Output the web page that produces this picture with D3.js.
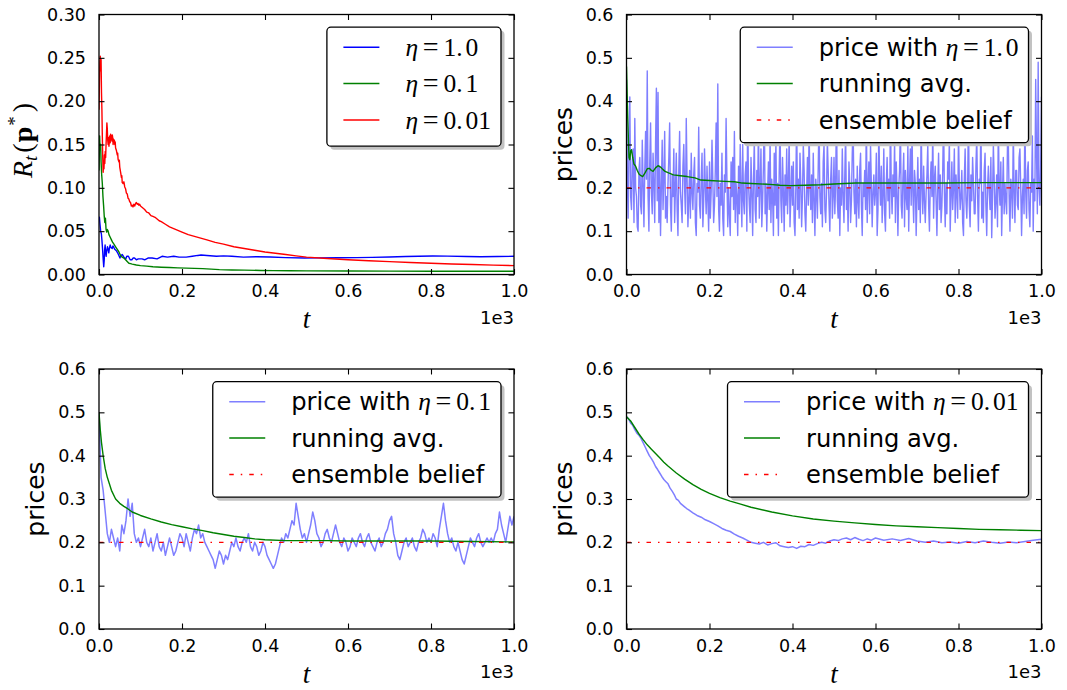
<!DOCTYPE html>
<html>
<head>
<meta charset="utf-8">
<script src="https://cdn.jsdelivr.net/npm/d3@7"></script>
<style>
  html, body { margin: 0; padding: 0; background: #fff; }
  svg { display: block; }
</style>
</head>
<body>
<svg id="fig" width="1067" height="690"></svg>
<script>
// ---------------- data ----------------
// time axis (steps); tick labels are shown in thousands with a "1e3" offset
const timeTicks = [0, 200, 400, 600, 800, 1000];
const regretTicks = [0, 0.05, 0.10, 0.15, 0.20, 0.25, 0.30];
const priceTicks = [0, 0.1, 0.2, 0.3, 0.4, 0.5, 0.6];

// R_t(p*) for three learning rates: [t, value]
const regretEta1 = [[0,0.062],[1,0.066],[2.4,0.058],[4,0.05],[5.7,0.047],[7,0.04],[8.5,0.03],[10,0.018],[11.4,0.009],[12.5,0.016],[13.5,0.028],[14.7,0.034],[16,0.026],[17.1,0.021],[18.5,0.027],[20.4,0.032],[22,0.029],[23.6,0.025],[25,0.03],[26.9,0.034],[29,0.031],[31.8,0.03],[33.5,0.033],[35,0.032],[38,0.029],[42.4,0.027],[46,0.024],[50.5,0.019],[53,0.022],[56.2,0.023],[60,0.02],[64.4,0.018],[67,0.021],[70.9,0.021],[75,0.017],[79.1,0.017],[82,0.019],[85.6,0.019],[90,0.017],[95,0.018],[103.5,0.018],[110,0.017],[118,0.019],[128,0.019],[140,0.018],[152,0.021],[165,0.02],[180,0.021],[193,0.02],[210,0.02],[225,0.021],[238,0.022],[246,0.0225],[260,0.022],[283,0.021],[300,0.0215],[320,0.021],[348,0.02],[380,0.0205],[413,0.0202],[450,0.0195],[495,0.019],[530,0.0192],[576,0.0193],[620,0.0195],[658,0.0198],[700,0.0202],[739,0.0208],[770,0.021],[804,0.0213],[840,0.0212],[886,0.0207],[920,0.0205],[960,0.0208],[1000,0.021]];
const regretEta01 = [[0,0.12],[1.5,0.16],[2.5,0.145],[4,0.15],[5,0.13],[6.5,0.115],[8,0.105],[9.5,0.09],[11,0.08],[12.5,0.068],[14,0.06],[15.5,0.065],[17,0.052],[18.5,0.049],[20,0.052],[22,0.05],[24,0.046],[27,0.043],[30,0.04],[33,0.037],[36,0.035],[40,0.032],[44,0.029],[48,0.026],[52,0.022],[56,0.02],[60,0.019],[64,0.017],[68,0.015],[72,0.013],[76,0.0125],[80,0.012],[90,0.011],[100,0.0103],[115,0.0097],[130,0.009],[150,0.0084],[170,0.008],[190,0.0077],[210,0.0074],[230,0.0071],[250,0.0068],[270,0.0062],[290,0.0056],[320,0.0052],[350,0.005],[390,0.0047],[420,0.0045],[460,0.0043],[500,0.0042],[600,0.004],[700,0.0039],[800,0.0038],[900,0.0038],[1000,0.0037]];
const regretEta001 = [[0,0.19],[1,0.22],[2,0.245],[3,0.252],[4,0.235],[5,0.248],[6,0.21],[7,0.19],[8,0.16],[9,0.135],[10,0.118],[11,0.128],[12,0.122],[13,0.138],[14,0.128],[15,0.142],[16,0.135],[17,0.15],[18,0.162],[19,0.175],[20,0.168],[21,0.155],[22,0.15],[23,0.158],[24,0.148],[25,0.155],[26,0.16],[27,0.152],[28,0.162],[29,0.157],[30,0.16],[31,0.154],[32,0.161],[33,0.158],[34,0.15],[35,0.156],[36,0.152],[37,0.155],[38,0.15],[39,0.153],[40,0.146],[42,0.143],[44,0.138],[45,0.14],[46,0.133],[48,0.13],[49,0.132],[50,0.124],[52,0.118],[54,0.112],[55,0.114],[56,0.106],[58,0.105],[60,0.107],[62,0.101],[64,0.099],[66,0.094],[68,0.093],[70,0.088],[72,0.087],[74,0.084],[76,0.083],[78,0.079],[80,0.08],[82,0.078],[84,0.081],[86,0.079],[88,0.082],[90,0.083],[92,0.081],[94,0.082],[96,0.08],[98,0.081],[100,0.079],[105,0.077],[110,0.075],[115,0.072],[120,0.071],[125,0.068],[130,0.067],[135,0.066],[140,0.064],[145,0.062],[150,0.061],[160,0.058],[170,0.055],[180,0.053],[190,0.051],[200,0.049],[215,0.046],[230,0.044],[245,0.042],[260,0.04],[280,0.037],[300,0.035],[325,0.032],[350,0.03],[375,0.028],[400,0.026],[425,0.0245],[450,0.023],[475,0.0215],[500,0.02],[550,0.0185],[600,0.017],[650,0.0158],[700,0.0148],[750,0.0138],[800,0.013],[850,0.0122],[900,0.0115],[950,0.0108],[1000,0.0102]];

// price path with eta = 1.0, sampled every 2 steps from t = 0
const priceEta1Step = 2;
const priceEta1 = [
  .45,.22,.13,.30,.41,.18,.15,.26,.29,.12,
  .36,.20,.18,.11,.10,.24,.27,.16,.14,.31,
  .21,.11,.24,.33,.22,.47,.18,.10,.26,.35,
  .19,.14,.28,.21,.12,.30,.43,.17,.42,.12,
  .25,.09,.20,.31,.15,.22,.33,.13,.18,.12,
  .21,.27,.35,.16,.10,.23,.18,.29,.12,.20,
  .28,.15,.09,.24,.33,.19,.16,.12,.25,.30,
  .20,.14,.36,.22,.11,.17,.24,.13,.28,.19,
  .15,.23,.27,.12,.09,.21,.19,.34,.16,.13,
  .22,.28,.11,.17,.29,.20,.14,.25,.17,.10,
  .26,.13,.19,.31,.22,.12,.16,.24,.35,.18,
  .44,.15,.10,.21,.16,.28,.13,.09,.23,.19,
  .36,.22,.11,.20,.14,.09,.26,.18,.27,.15,
  .33,.12,.21,.18,.09,.25,.14,.30,.19,.11,
  .30,.17,.14,.23,.26,.10,.38,.21,.16,.12,
  .27,.19,.09,.22,.31,.15,.12,.24,.18,.35,
  .13,.20,.29,.11,.17,.25,.40,.14,.21,.10,
  .19,.26,.15,.32,.12,.22,.18,.09,.28,.16,
  .31,.13,.21,.09,.24,.35,.17,.12,.27,.19,
  .10,.23,.16,.29,.14,.21,.32,.11,.18,.25,
  .16,.26,.12,.09,.20,.37,.15,.22,.13,.28,
  .21,.11,.18,.30,.24,.14,.10,.19,.27,.16,
  .34,.20,.15,.23,.12,.28,.17,.09,.22,.19,
  .13,.25,.36,.18,.14,.21,.11,.26,.30,.15,
  .12,.19,.31,.24,.16,.10,.22,.27,.13,.18,
  .27,.14,.21,.39,.17,.13,.24,.09,.20,.16,
  .29,.18,.12,.23,.33,.15,.20,.10,.26,.21,
  .12,.17,.28,.35,.19,.14,.22,.11,.25,.17,
  .13,.24,.28,.16,.09,.21,.18,.24,.15,.37,
  .12,.20,.26,.14,.30,.21,.11,.19,.23,.16,
  .19,.28,.09,.15,.34,.22,.16,.25,.12,.18,
  .29,.14,.10,.21,.27,.17,.22,.13,.38,.20,
  .14,.23,.18,.31,.12,.26,.19,.09,.20,.24,
  .35,.16,.13,.22,.28,.11,.24,.18,.15,.30,
  .10,.21,.29,.16,.33,.19,.12,.24,.21,.09,
  .18,.27,.15,.22,.12,.36,.20,.14,.25,.17,
  .12,.19,.23,.30,.16,.10,.21,.26,.18,.34,
  .13,.22,.25,.17,.09,.20,.28,.15,.23,.12,
  .16,.24,.37,.19,.11,.21,.14,.26,.22,.31,
  .10,.18,.26,.15,.20,.29,.12,.23,.19,.13,
  .33,.21,.15,.18,.24,.12,.09,.22,.29,.17,
  .13,.20,.38,.16,.11,.23,.17,.27,.21,.14,
  .14,.25,.32,.18,.10,.22,.21,.36,.13,.19,
  .12,.24,.28,.16,.09,.20,.25,.19,.15,.27,
  .085,.18,.30,.22,.13,.17,.23,.11,.35,.20,
  .16,.26,.09,.19,.27,.14,.21,.17,.14,.30,
  .31,.18,.10,.22,.20,.13,.34,.19,.12,.24,
  .24,.16,.15,.27,.29,.20,.09,.18,.22,.14,
  .37,.19,.13,.24,.26,.15,.11,.21,.19,.32,
  .10,.22,.17,.45,.28,.14,.49,.20,.16,.25,
  .41
];
const avgEta1 = [[0,0.48],[3,0.36],[6,0.27],[8,0.265],[10,0.285],[12,0.288],[15,0.27],[18,0.255],[22,0.25],[26,0.24],[30,0.232],[35,0.228],[39,0.226],[45,0.235],[50,0.244],[55,0.245],[60,0.24],[64,0.238],[70,0.246],[76,0.251],[82,0.248],[88,0.242],[93,0.238],[100,0.235],[113,0.23],[130,0.228],[146,0.226],[165,0.223],[179,0.218],[200,0.217],[237,0.215],[260,0.214],[279,0.211],[300,0.21],[345,0.208],[370,0.206],[395,0.205],[430,0.206],[469,0.207],[500,0.209],[552,0.211],[650,0.211],[758,0.211],[850,0.212],[1000,0.212]];

// price path with eta = 0.1, sampled every 5 steps from t = 0
const priceEta01Step = 5;
const priceEta01 = [
  .50,.35,.32,.27,.22,.20,.23,.21,.19,.21,
  .18,.24,.22,.25,.30,.26,.29,.22,.20,.21,
  .19,.21,.23,.20,.19,.21,.18,.20,.22,.19,
  .18,.20,.17,.19,.21,.19,.17,.18,.20,.22,
  .21,.19,.22,.20,.18,.21,.23,.22,.24,.21,
  .22,.20,.19,.18,.17,.16,.14,.16,.18,.17,
  .15,.17,.16,.18,.20,.19,.21,.19,.18,.20,
  .21,.20,.22,.19,.18,.20,.19,.17,.18,.20,
  .19,.17,.16,.15,.14,.15,.17,.19,.21,.20,
  .22,.21,.23,.25,.24,.29,.26,.23,.21,.22,
  .20,.22,.24,.27,.25,.22,.21,.19,.20,.22,
  .23,.21,.20,.22,.24,.22,.20,.19,.21,.20,
  .18,.19,.21,.20,.19,.21,.22,.20,.19,.21,
  .22,.20,.19,.18,.20,.21,.19,.20,.22,.23,
  .25,.26,.22,.20,.17,.16,.18,.20,.21,.19,
  .20,.21,.19,.18,.20,.21,.23,.22,.20,.21,
  .20,.22,.21,.19,.23,.26,.29,.25,.22,.20,
  .21,.19,.18,.20,.18,.16,.15,.17,.19,.21,
  .20,.19,.21,.22,.20,.19,.20,.21,.20,.21,
  .20,.22,.23,.27,.24,.22,.20,.23,.26,.24,
  .26
];
const avgEta01 = [[0,0.5],[3,0.46],[6,0.43],[10,0.40],[15,0.37],[20,0.35],[25,0.335],[30,0.32],[40,0.30],[50,0.29],[60,0.283],[70,0.277],[80,0.27],[100,0.262],[125,0.254],[150,0.247],[175,0.241],[200,0.236],[225,0.231],[250,0.227],[275,0.222],[300,0.218],[325,0.214],[350,0.211],[375,0.208],[400,0.206],[450,0.204],[500,0.204],[550,0.204],[600,0.203],[700,0.203],[800,0.203],[900,0.202],[1000,0.201]];

// price path with eta = 0.01: [t, price]
const priceEta001 = [[0,0.49],[5,0.485],[10,0.475],[15,0.47],[20,0.46],[25,0.452],[30,0.447],[35,0.44],[40,0.43],[45,0.42],[50,0.41],[55,0.40],[60,0.393],[65,0.385],[70,0.375],[75,0.368],[80,0.36],[85,0.352],[90,0.345],[95,0.34],[100,0.335],[105,0.325],[110,0.318],[115,0.31],[120,0.30],[125,0.297],[130,0.29],[135,0.286],[140,0.282],[145,0.278],[150,0.275],[160,0.268],[170,0.262],[180,0.258],[190,0.252],[200,0.248],[210,0.243],[220,0.238],[230,0.232],[240,0.228],[250,0.225],[260,0.219],[270,0.214],[280,0.21],[290,0.205],[300,0.2],[310,0.198],[320,0.196],[330,0.2],[340,0.194],[350,0.197],[360,0.199],[370,0.192],[380,0.19],[390,0.188],[400,0.19],[410,0.186],[420,0.191],[430,0.19],[440,0.195],[450,0.193],[460,0.197],[470,0.2],[480,0.198],[490,0.203],[500,0.206],[510,0.204],[520,0.208],[530,0.21],[540,0.206],[550,0.211],[560,0.207],[570,0.204],[580,0.208],[590,0.205],[600,0.21],[620,0.205],[640,0.208],[660,0.204],[680,0.209],[700,0.203],[720,0.2],[740,0.203],[760,0.199],[780,0.201],[800,0.198],[820,0.202],[840,0.199],[860,0.203],[880,0.2],[900,0.198],[920,0.201],[940,0.199],[960,0.202],[980,0.205],[1000,0.207]];
const avgEta001 = [[0,0.49],[10,0.48],[20,0.465],[30,0.45],[40,0.437],[50,0.425],[60,0.415],[70,0.405],[80,0.395],[90,0.385],[100,0.376],[120,0.36],[140,0.346],[160,0.333],[180,0.322],[200,0.313],[225,0.303],[250,0.295],[275,0.288],[300,0.281],[350,0.27],[400,0.261],[450,0.254],[500,0.249],[550,0.245],[600,0.241],[650,0.238],[700,0.236],[750,0.234],[800,0.232],[850,0.23],[900,0.229],[950,0.228],[1000,0.227]];

const ensembleBelief = 0.2;

const regretLabels = ["η=1.0", "η=0.1", "η=0.01"];
const priceLabelsEta1 = ["price with η=1.0", "running avg.", "ensemble belief"];
const priceLabelsEta01 = ["price with η=0.1", "running avg.", "ensemble belief"];
const priceLabelsEta001 = ["price with η=0.01", "running avg.", "ensemble belief"];

// ---------------- drawing ----------------
const SANS = "DejaVu Sans";
const SERIF = "Liberation Serif";
const svg = d3.select("#fig");
const W = 415, H = 260, TICK = 5.5;
const BLUE = "#0000ff", GREEN = "#008000", RED = "#ff0000", LIGHT = "#7f7fff";
const DASHDOT = "4.5,7,1.5,7";
const TICK_FONT = 17.5, LEGEND_FONT = 24.2, MATH_FONT = 25.5;

const evenly = (vals, step) => vals.map((v, i) => [i * step, v]);

// η=value written as math: italic eta, relation sign, upright digits
function appendEta(text, str, size) {
  const val = str.split("=")[1];
  const [a, b] = val.split(".");
  text.append("tspan").attr("font-family", SERIF).attr("font-style", "italic").attr("font-size", size).text("η");
  text.append("tspan").attr("font-family", SERIF).attr("font-size", size * 1.1).attr("dx", size * 0.18).text("=");
  text.append("tspan").attr("font-family", SERIF).attr("font-size", size).attr("dx", size * 0.2).text(a + ".");
  text.append("tspan").attr("font-family", SERIF).attr("font-size", size).attr("dx", size * 0.11).text(b);
}

function writeLabel(text, label) {
  const k = label.indexOf("η=");
  if (k < 0) { text.append("tspan").attr("font-family", SANS).attr("font-size", LEGEND_FONT).text(label); return; }
  if (k > 0) text.append("tspan").attr("font-family", SANS).attr("font-size", LEGEND_FONT).text(label.slice(0, k));
  appendEta(text, label.slice(k), MATH_FONT);
}

function panel(px, py, yDomain, yTicks, yFmt, series, legendItems, yLabelFn, clipId) {
  const g = svg.append("g").attr("transform", `translate(${px},${py})`);
  const x = d3.scaleLinear().domain([0, 1000]).range([0, W]);
  const y = d3.scaleLinear().domain(yDomain).range([H, 0]);

  g.append("clipPath").attr("id", clipId).append("rect").attr("width", W).attr("height", H);
  const plot = g.append("g").attr("clip-path", `url(#${clipId})`);
  const line = d3.line().x(d => x(d[0])).y(d => y(d[1]));
  series.forEach(s => {
    plot.append("path").datum(s.data).attr("d", line)
      .attr("fill", "none").attr("stroke", s.color).attr("stroke-width", s.width || 1.4)
      .attr("stroke-linejoin", "round")
      .attr("stroke-dasharray", s.dash || null);
  });

  // axes with inward ticks on all four sides
  const styleAxis = (a) => {
    a.select(".domain").remove();
    a.attr("font-family", SANS).attr("font-size", TICK_FONT);
    a.selectAll("line").attr("stroke", "#000").attr("stroke-width", 1.1);
    a.selectAll("text").attr("fill", "#000");
  };
  g.append("g").attr("transform", `translate(0,${H})`)
    .call(d3.axisBottom(x).tickValues(timeTicks).tickSize(-TICK).tickPadding(10.3)
      .tickFormat(d => (d / 1000).toFixed(1))).call(styleAxis);
  g.append("g").call(d3.axisTop(x).tickValues(timeTicks).tickSize(-TICK).tickFormat("")).call(styleAxis);
  g.append("g")
    .call(d3.axisLeft(y).tickValues(yTicks).tickSize(-TICK).tickPadding(13).tickFormat(yFmt)).call(styleAxis);
  g.append("g").attr("transform", `translate(${W},0)`)
    .call(d3.axisRight(y).tickValues(yTicks).tickSize(-TICK).tickFormat("")).call(styleAxis);

  g.append("rect").attr("width", W).attr("height", H)
    .attr("fill", "none").attr("stroke", "#000").attr("stroke-width", 1.3);

  // offset text and x label
  g.append("text").attr("x", W).attr("y", H + 49).attr("text-anchor", "end")
    .attr("font-family", SANS).attr("font-size", TICK_FONT + 0.5).text("1e3");
  g.append("text").attr("x", W / 2).attr("y", H + 53.5).attr("text-anchor", "middle")
    .attr("font-family", SERIF).attr("font-style", "italic").attr("font-size", 27).text("t");

  yLabelFn(g);

  // legend, anchored to the upper right corner
  const lg = g.append("g");
  const rows = lg.append("g");
  const rowGap = 36.4, textX = 78.5;
  let maxW = 0;
  legendItems.forEach((it, i) => {
    const cy = 20 + i * rowGap;
    rows.append("line").attr("x1", 16.5).attr("x2", 52.5).attr("y1", cy).attr("y2", cy)
      .attr("stroke", it.color).attr("stroke-width", 1.5).attr("stroke-dasharray", it.dash || null);
    const t = rows.append("text").attr("x", textX).attr("y", cy + 8.6).attr("fill", "#000");
    writeLabel(t, it.label);
    maxW = Math.max(maxW, t.node().getBBox().width);
  });
  const boxW = textX + maxW + 10;
  const boxH = legendItems[0].label.startsWith("η") ? 119 : 115.5;
  lg.insert("rect", ":first-child").attr("x", 0).attr("y", 0).attr("width", boxW).attr("height", boxH)
    .attr("rx", 4).attr("fill", "#fff").attr("stroke", "#000").attr("stroke-width", 1.3);
  lg.insert("rect", ":first-child").attr("x", 3.5).attr("y", 3.5).attr("width", boxW).attr("height", boxH)
    .attr("rx", 4).attr("fill", "#c2c2c2");
  lg.attr("transform", `translate(${W - 13 - boxW},12.7)`);
}

function pricesLabel(g) {
  g.append("text").attr("transform", `translate(-55,${H / 2}) rotate(-90)`)
    .attr("text-anchor", "middle").attr("font-family", SANS).attr("font-size", 25).text("prices");
}
function regretLabel(g) {
  const t = g.append("text").attr("transform", `translate(-67.5,${H / 2 - 4}) rotate(-90)`)
    .attr("text-anchor", "middle").attr("font-family", SERIF).attr("font-size", 28);
  t.append("tspan").attr("font-style", "italic").text("R");
  t.append("tspan").attr("font-style", "italic").attr("font-size", 19).attr("dy", 5).text("t");
  t.append("tspan").attr("dy", -5).attr("dx", 3).text("(");
  t.append("tspan").attr("font-weight", "bold").attr("dx", 1).text("p");
  t.append("tspan").attr("font-size", 19).attr("dy", -11).attr("dx", 1).text("*");
  t.append("tspan").attr("dy", 11).attr("dx", 4).text(")");
}

const flat = [[0, ensembleBelief], [1000, ensembleBelief]];
const fmt1 = d3.format(".1f"), fmt2 = d3.format(".2f");

panel(99, 14.5, [0, 0.30], regretTicks, fmt2,
  [{ data: regretEta1, color: BLUE }, { data: regretEta01, color: GREEN }, { data: regretEta001, color: RED }],
  [{ label: regretLabels[0], color: BLUE }, { label: regretLabels[1], color: GREEN }, { label: regretLabels[2], color: RED }],
  regretLabel, "c1");

panel(626.5, 14.5, [0, 0.6], priceTicks, fmt1,
  [{ data: evenly(priceEta1, priceEta1Step), color: LIGHT, width: 1.4 }, { data: avgEta1, color: GREEN },
   { data: flat, color: RED, dash: DASHDOT }],
  [{ label: priceLabelsEta1[0], color: LIGHT }, { label: priceLabelsEta1[1], color: GREEN },
   { label: priceLabelsEta1[2], color: RED, dash: DASHDOT }],
  pricesLabel, "c2");

panel(99, 369, [0, 0.6], priceTicks, fmt1,
  [{ data: evenly(priceEta01, priceEta01Step), color: LIGHT, width: 1.5 }, { data: avgEta01, color: GREEN },
   { data: flat, color: RED, dash: DASHDOT }],
  [{ label: priceLabelsEta01[0], color: LIGHT }, { label: priceLabelsEta01[1], color: GREEN },
   { label: priceLabelsEta01[2], color: RED, dash: DASHDOT }],
  pricesLabel, "c3");

panel(626.5, 369, [0, 0.6], priceTicks, fmt1,
  [{ data: priceEta001, color: LIGHT, width: 1.5 }, { data: avgEta001, color: GREEN },
   { data: flat, color: RED, dash: DASHDOT }],
  [{ label: priceLabelsEta001[0], color: LIGHT }, { label: priceLabelsEta001[1], color: GREEN },
   { label: priceLabelsEta001[2], color: RED, dash: DASHDOT }],
  pricesLabel, "c4");
</script>
</body>
</html>
